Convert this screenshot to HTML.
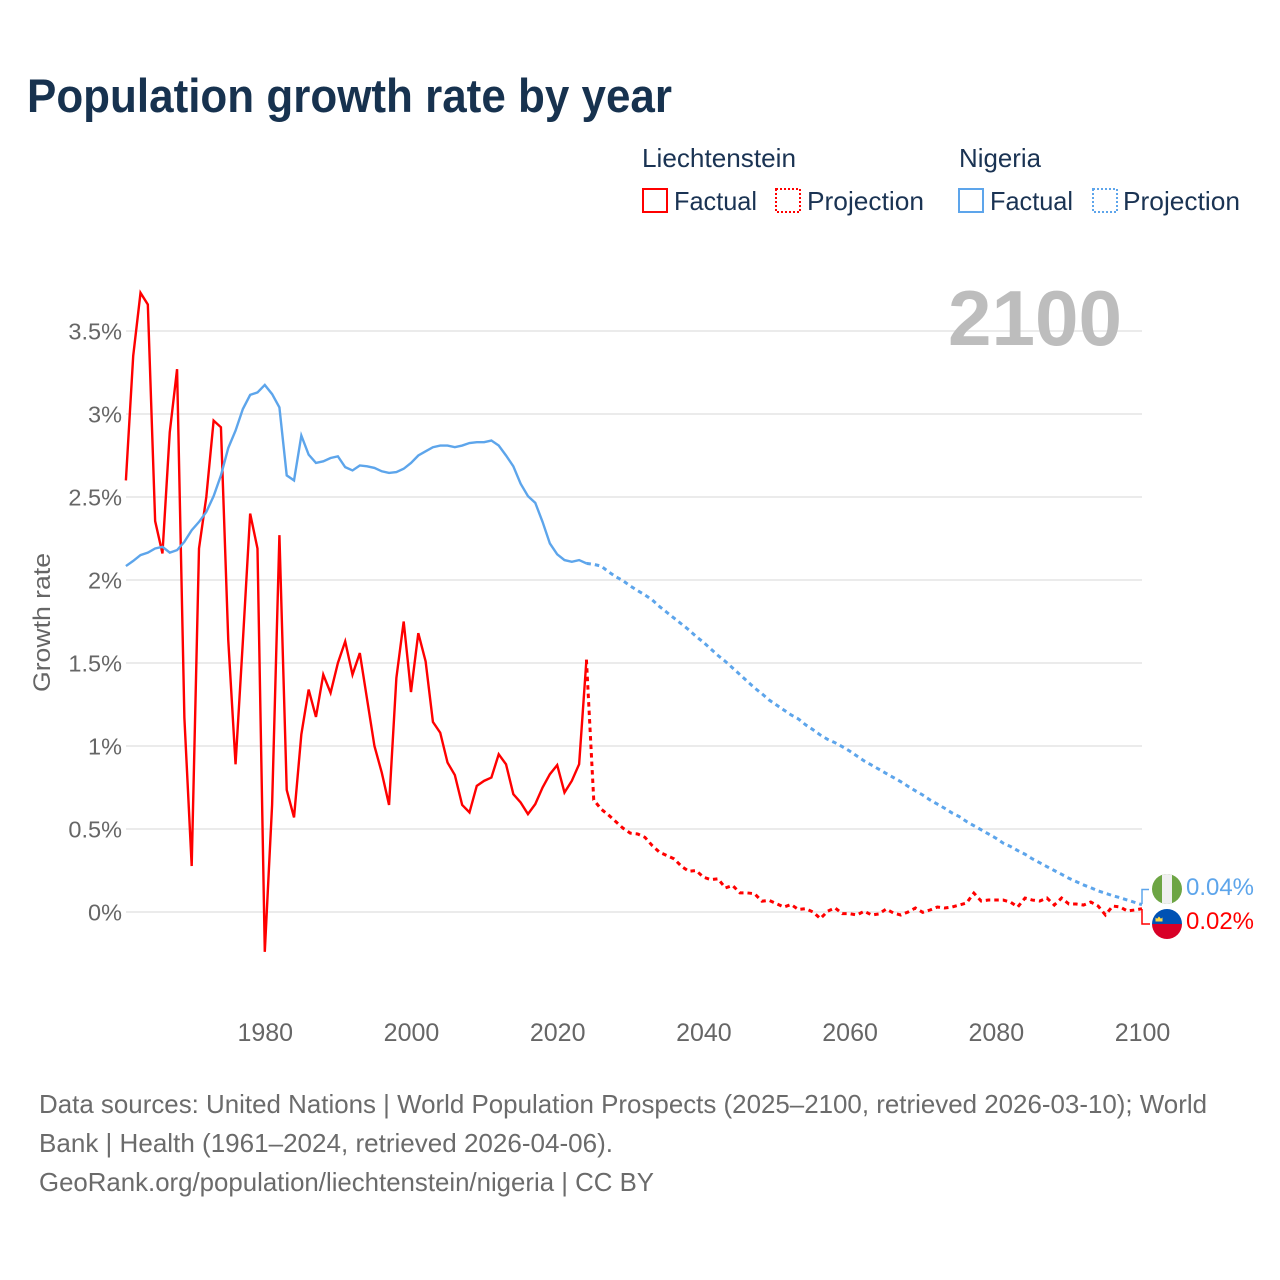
<!DOCTYPE html>
<html lang="en">
<head>
<meta charset="utf-8">
<title>Population growth rate by year</title>
<style>
html,body{margin:0;padding:0;background:#fff;width:1280px;height:1280px;overflow:hidden}
svg{display:block;font-family:"Liberation Sans",sans-serif}
</style>
</head>
<body>
<svg id="chart" xmlns="http://www.w3.org/2000/svg" width="1280" height="1280" viewBox="0 0 1280 1280">
  <rect width="1280" height="1280" fill="#fff"/>
  <text x="27" y="112" font-size="47" font-weight="700" fill="#17324f" textLength="645" lengthAdjust="spacingAndGlyphs">Population growth rate by year</text>

  <g font-size="26" fill="#1a3353">
    <text x="642" y="167" textLength="154" lengthAdjust="spacingAndGlyphs">Liechtenstein</text>
    <text x="959" y="167" textLength="82" lengthAdjust="spacingAndGlyphs">Nigeria</text>
    <rect x="643" y="189" width="24" height="23" fill="none" stroke="#ff0000" stroke-width="2"/>
    <text x="674" y="210" textLength="83" lengthAdjust="spacingAndGlyphs">Factual</text>
    <rect x="776" y="189" width="24" height="23" fill="none" stroke="#ff0000" stroke-width="2" stroke-dasharray="2 2"/>
    <text x="807" y="210" textLength="117" lengthAdjust="spacingAndGlyphs">Projection</text>
    <rect x="959" y="189" width="24" height="23" fill="none" stroke="#5da5eb" stroke-width="2"/>
    <text x="990" y="210" textLength="83" lengthAdjust="spacingAndGlyphs">Factual</text>
    <rect x="1093" y="189" width="24" height="23" fill="none" stroke="#5da5eb" stroke-width="2" stroke-dasharray="2 2"/>
    <text x="1123" y="210" textLength="117" lengthAdjust="spacingAndGlyphs">Projection</text>
  </g>

  <g id="grid"></g>
  <g id="yticks"></g>
  <g id="xticks"></g>
  <text transform="translate(50,692) rotate(-90)" font-size="24" fill="#666" textLength="139" lengthAdjust="spacingAndGlyphs">Growth rate</text>
  <text x="948" y="345" font-size="78" font-weight="700" fill="#bdbdbd" textLength="174" lengthAdjust="spacingAndGlyphs">2100</text>

  <g id="series"></g>

  <g fill="none" stroke-width="1.5">
    <path d="M1142 904V889.5H1149" stroke="#5da5eb"/>
    <path d="M1142 909V924H1150" stroke="#ff0000"/>
  </g>

  <g>
    <clipPath id="clip-ng"><circle cx="1167" cy="889" r="15"/></clipPath>
    <g clip-path="url(#clip-ng)">
      <rect x="1152" y="874" width="30" height="30" fill="#6da544"/>
      <rect x="1162" y="874" width="10" height="30" fill="#f0f0f0"/>
    </g>
  </g>
  <g>
    <clipPath id="clip-li"><circle cx="1167" cy="924" r="15"/></clipPath>
    <g clip-path="url(#clip-li)">
      <rect x="1152" y="909" width="30" height="15" fill="#0052b4"/>
      <rect x="1152" y="924" width="30" height="15" fill="#d80027"/>
      <path d="M1155.5 921.5h7v-4l-1.6 1.2-1.9-2.2-1.9 2.2-1.6-1.2z" fill="#ffda44"/>
    </g>
  </g>
  <text id="label-ng" x="1186" y="895" font-size="24" fill="#5da5eb" textLength="68" lengthAdjust="spacingAndGlyphs"></text>
  <text id="label-li" x="1186" y="929" font-size="24" fill="#ff0000" textLength="68" lengthAdjust="spacingAndGlyphs"></text>

  <g font-size="26" fill="#6b6b6b">
    <text x="39" y="1113" textLength="1168" lengthAdjust="spacingAndGlyphs">Data sources: United Nations | World Population Prospects (2025–2100, retrieved 2026-03-10); World</text>
    <text x="39" y="1152" textLength="574" lengthAdjust="spacingAndGlyphs">Bank | Health (1961–2024, retrieved 2026-04-06).</text>
    <text x="39" y="1191" textLength="615" lengthAdjust="spacingAndGlyphs">GeoRank.org/population/liechtenstein/nigeria | CC BY</text>
  </g>
</svg>
<script>
const factualStartYear = 1961;
const projectionStartYear = 2025;

const liechtensteinFactual = [2.60,3.35,3.73,3.66,2.355,2.16,2.89,3.27,1.17,0.277,2.19,2.5,2.96,2.92,1.64,0.89,1.63,2.40,2.19,-0.24,0.645,2.27,0.735,0.57,1.07,1.34,1.175,1.43,1.32,1.50,1.63,1.43,1.56,1.28,1.0,0.84,0.645,1.41,1.75,1.325,1.68,1.51,1.145,1.08,0.9,0.825,0.645,0.60,0.76,0.79,0.81,0.95,0.89,0.71,0.66,0.59,0.65,0.75,0.83,0.885,0.72,0.79,0.89,1.52];

const liechtensteinProjection = [0.675,0.62,0.585,0.545,0.505,0.475,0.47,0.45,0.40,0.36,0.34,0.32,0.275,0.245,0.25,0.21,0.195,0.20,0.145,0.16,0.115,0.115,0.11,0.065,0.07,0.05,0.03,0.045,0.015,0.02,0.0,-0.04,0.005,0.025,-0.01,-0.01,-0.018,0.005,-0.018,-0.012,0.018,-0.006,-0.018,0.0,0.024,-0.002,0.012,0.03,0.024,0.03,0.042,0.054,0.114,0.066,0.072,0.072,0.072,0.06,0.03,0.084,0.072,0.066,0.084,0.042,0.084,0.048,0.048,0.042,0.06,0.036,-0.018,0.036,0.03,0.006,0.012,0.02];

const nigeriaFactual = [2.084,2.115,2.15,2.165,2.19,2.2,2.165,2.18,2.23,2.30,2.35,2.41,2.505,2.63,2.795,2.90,3.03,3.115,3.13,3.175,3.12,3.04,2.63,2.60,2.87,2.755,2.705,2.715,2.735,2.745,2.68,2.66,2.69,2.685,2.675,2.655,2.645,2.65,2.67,2.705,2.75,2.775,2.80,2.81,2.81,2.80,2.81,2.825,2.83,2.83,2.84,2.81,2.75,2.685,2.58,2.505,2.465,2.35,2.22,2.155,2.12,2.11,2.12,2.10];

const nigeriaProjection = [2.094,2.084,2.05,2.02,1.996,1.964,1.936,1.91,1.88,1.84,1.805,1.77,1.735,1.70,1.66,1.625,1.585,1.545,1.51,1.47,1.43,1.39,1.35,1.315,1.277,1.247,1.217,1.187,1.163,1.127,1.098,1.066,1.04,1.02,0.996,0.97,0.94,0.91,0.885,0.86,0.835,0.81,0.785,0.757,0.73,0.705,0.675,0.65,0.625,0.597,0.575,0.545,0.52,0.495,0.47,0.445,0.415,0.395,0.37,0.348,0.32,0.297,0.273,0.25,0.227,0.203,0.183,0.163,0.146,0.127,0.113,0.098,0.086,0.072,0.058,0.044];

const yTickValues = [0,0.5,1,1.5,2,2.5,3,3.5];
const yTickLabels = ["0%","0.5%","1%","1.5%","2%","2.5%","3%","3.5%"];
const xTickYears = [1980,2000,2020,2040,2060,2080,2100];

function xScale(year){ return 125.9 + (year - 1961) * (1142 - 125.9) / (2100 - 1961); }
function yScale(value){ return 912 - value * 166; }

const NS = 'http://www.w3.org/2000/svg';
const gridGroup = document.getElementById('grid');
const yTickGroup = document.getElementById('yticks');
const xTickGroup = document.getElementById('xticks');
const seriesGroup = document.getElementById('series');

yTickValues.forEach(function(v, i){
  const line = document.createElementNS(NS, 'line');
  
  
  line.setAttribute('x1', 126);
  line.setAttribute('x2', 1142);
  line.setAttribute('y1', yScale(v));
  line.setAttribute('y2', yScale(v));
  line.setAttribute('stroke', '#ebebeb');
  line.setAttribute('stroke-width', 2);
  gridGroup.appendChild(line);

  const label = document.createElementNS(NS, 'text');
  
  
  label.setAttribute('x', 122);
  label.setAttribute('y', yScale(v) + 8.5);
  label.setAttribute('text-anchor', 'end');
  label.setAttribute('font-size', 23.5);
  label.setAttribute('fill', '#666');
  label.textContent = yTickLabels[i];
  yTickGroup.appendChild(label);
});

xTickYears.forEach(function(year){
  const label = document.createElementNS(NS, 'text');
  
  
  label.setAttribute('x', xScale(year) + 0.5);
  label.setAttribute('y', 1041);
  label.setAttribute('text-anchor', 'middle');
  label.setAttribute('font-size', 25);
  label.setAttribute('fill', '#666');
  label.textContent = String(year);
  xTickGroup.appendChild(label);
});

function pointsFor(values, startYear, prefix){
  const pts = prefix ? [prefix] : [];
  values.forEach(function(v, i){
    pts.push(xScale(startYear + i).toFixed(2) + ',' + yScale(v).toFixed(2));
  });
  return pts.join(' ');
}

function drawLine(name, values, startYear, color, dash, prefix){
  const poly = document.createElementNS(NS, 'polyline');
  
  
  poly.setAttribute('points', pointsFor(values, startYear, prefix));
  poly.setAttribute('fill', 'none');
  poly.setAttribute('stroke', color);
  poly.setAttribute('stroke-width', dash ? 3 : 2.4);
  poly.setAttribute('stroke-linejoin', 'miter');
  if (dash) poly.setAttribute('stroke-dasharray', dash);
  seriesGroup.appendChild(poly);
}

function lastPoint(values, startYear){
  const i = values.length - 1;
  return xScale(startYear + i).toFixed(2) + ',' + yScale(values[i]).toFixed(2);
}

drawLine('line-nigeria-projection', nigeriaProjection, projectionStartYear, '#5da5eb', '4.5 4', lastPoint(nigeriaFactual, factualStartYear));
drawLine('line-liechtenstein-projection', liechtensteinProjection, projectionStartYear, '#ff0000', '4.5 4', lastPoint(liechtensteinFactual, factualStartYear));
drawLine('line-liechtenstein-factual', liechtensteinFactual, factualStartYear, '#ff0000', null, null);
drawLine('line-nigeria-factual', nigeriaFactual, factualStartYear, '#5da5eb', null, null);

document.getElementById('label-ng').textContent = nigeriaProjection[nigeriaProjection.length - 1].toFixed(2) + '%';
document.getElementById('label-li').textContent = liechtensteinProjection[liechtensteinProjection.length - 1].toFixed(2) + '%';
</script>
</body>
</html>
